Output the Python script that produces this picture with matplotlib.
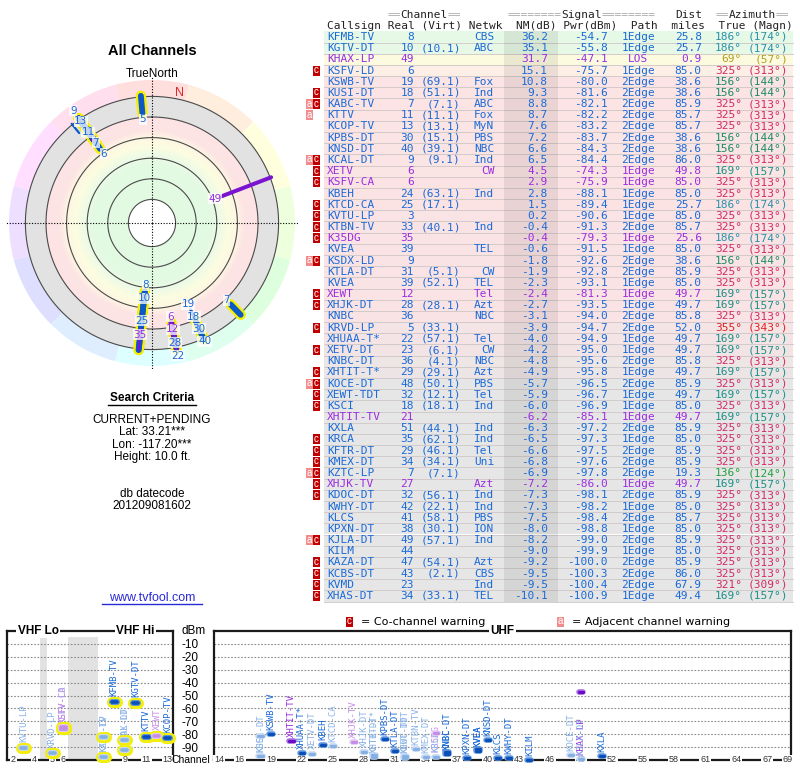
import colorsys
import numpy as np
import matplotlib
matplotlib.use('Agg')
import matplotlib.pyplot as plt
from matplotlib.colors import LinearSegmentedColormap
from matplotlib.patches import Rectangle

plt.rcParams['axes.unicode_minus'] = False

# ---- station table (strongest first) ----
callsigns = ['KFMB-TV', 'KGTV-DT', 'KHAX-LP', 'KSFV-LD', 'KSWB-TV', 'KUSI-DT', 'KABC-TV',
             'KTTV', 'KCOP-TV', 'KPBS-DT', 'KNSD-DT', 'KCAL-DT', 'XETV', 'KSFV-CA', 'KBEH',
             'KTCD-CA', 'KVTU-LP', 'KTBN-TV', 'K35DG', 'KVEA', 'KSDX-LD', 'KTLA-DT', 'KVEA',
             'XEWT', 'XHJK-DT', 'KNBC', 'KRVD-LP', 'XHUAA-T*', 'XETV-DT', 'KNBC-DT',
             'XHTIT-T*', 'KOCE-DT', 'XEWT-TDT', 'KSCI', 'XHTIT-TV', 'KXLA', 'KRCA',
             'KFTR-DT', 'KMEX-DT', 'KZTC-LP', 'XHJK-TV', 'KDOC-DT', 'KWHY-DT', 'KLCS',
             'KPXN-DT', 'KJLA-DT', 'KILM', 'KAZA-DT', 'KCBS-DT', 'KVMD', 'XHAS-DT']
real_ch = [8, 10, 49, 6, 19, 18, 7, 11, 13, 30, 40, 9, 6, 6, 24, 25, 3, 33, 35, 39, 9, 31, 39,
           12, 28, 36, 5, 22, 23, 36, 29, 48, 32, 18, 21, 51, 35, 29, 34, 7, 27, 32, 42, 41,
           38, 49, 44, 47, 43, 23, 34]
virt_ch = ['', '10.1', '', '', '69.1', '51.1', '7.1', '11.1', '13.1', '15.1', '39.1', '9.1',
           '', '', '63.1', '17.1', '', '40.1', '', '', '', '5.1', '52.1', '', '28.1', '',
           '33.1', '57.1', '6.1', '4.1', '29.1', '50.1', '12.1', '18.1', '', '44.1', '62.1',
           '46.1', '34.1', '7.1', '', '56.1', '22.1', '58.1', '30.1', '57.1', '', '54.1',
           '2.1', '', '33.1']
network = ['CBS', 'ABC', '', '', 'Fox', 'Ind', 'ABC', 'Fox', 'MyN', 'PBS', 'NBC', 'Ind', 'CW',
           '', 'Ind', '', '', 'Ind', '', 'TEL', '', 'CW', 'TEL', 'Tel', 'Azt', 'NBC', '',
           'Tel', 'CW', 'NBC', 'Azt', 'PBS', 'Tel', 'Ind', '', 'Ind', 'Ind', 'Tel', 'Uni', '',
           'Azt', 'Ind', 'Ind', 'PBS', 'ION', 'Ind', '', 'Azt', 'CBS', 'Ind', 'TEL']
nm_db = [36.2, 35.1, 31.7, 15.1, 10.8, 9.3, 8.8, 8.7, 7.6, 7.2, 6.6, 6.5, 4.5, 2.9, 2.8, 1.5,
         0.2, -0.4, -0.4, -0.6, -1.8, -1.9, -2.3, -2.4, -2.7, -3.1, -3.9, -4.0, -4.2, -4.8,
         -4.9, -5.7, -5.9, -6.0, -6.2, -6.3, -6.5, -6.6, -6.8, -6.9, -7.2, -7.3, -7.3, -7.5,
         -8.0, -8.2, -9.0, -9.2, -9.5, -9.5, -10.1]
pwr_dbm = [-54.7, -55.8, -47.1, -75.7, -80.0, -81.6, -82.1, -82.2, -83.2, -83.7, -84.3, -84.4,
           -74.3, -75.9, -88.1, -89.4, -90.6, -91.3, -79.3, -91.5, -92.6, -92.8, -93.1, -81.3,
           -93.5, -94.0, -94.7, -94.9, -95.0, -95.6, -95.8, -96.5, -96.7, -96.9, -85.1, -97.2,
           -97.3, -97.5, -97.6, -97.8, -86.0, -98.1, -98.2, -98.4, -98.8, -99.0, -99.9,
           -100.0, -100.3, -100.4, -100.9]
path = ['1Edge', '1Edge', 'LOS', '1Edge',
        '2Edge', '2Edge', '2Edge', '2Edge', '2Edge', '2Edge', '2Edge', '2Edge',
        '1Edge', '1Edge', '1Edge', '1Edge', '1Edge', '2Edge', '1Edge', '1Edge',
        '2Edge', '2Edge', '1Edge', '1Edge', '1Edge', '2Edge', '2Edge', '1Edge',
        '1Edge', '2Edge', '1Edge', '2Edge', '1Edge', '1Edge', '1Edge', '2Edge',
        '1Edge', '2Edge', '2Edge', '2Edge', '1Edge', '2Edge', '1Edge', '2Edge',
        '1Edge', '2Edge', '1Edge', '2Edge', '2Edge', '2Edge', '1Edge']
dist_mi = [25.8, 25.7, 0.9, 85.0, 38.6, 38.6, 85.9, 85.7, 85.7, 38.6, 38.6, 86.0, 49.8, 85.0,
           85.0, 25.7, 85.0, 85.7, 25.6, 85.0, 38.6, 85.9, 85.0, 49.7, 49.7, 85.8, 52.0, 49.7,
           49.7, 85.8, 49.7, 85.9, 49.7, 85.0, 49.7, 85.9, 85.0, 85.9, 85.9, 19.3, 49.7, 85.9,
           85.0, 85.7, 85.0, 85.9, 85.0, 85.9, 86.0, 67.9, 49.4]
az_true = [186, 186, 69, 325, 156, 156, 325, 325, 325, 156, 156, 325, 169, 325, 325, 186, 325,
           325, 186, 325, 156, 325, 325, 169, 169, 325, 355, 169, 169, 325, 169, 325, 169, 325,
           169, 325, 325, 325, 325, 136, 169, 325, 325, 325, 325, 325, 325, 325, 325, 321, 169]
az_magn = [174, 174, 57, 313, 144, 144, 313, 313, 313, 144, 144, 313, 157, 313, 313, 174, 313,
           313, 174, 313, 144, 313, 313, 157, 157, 313, 343, 157, 157, 313, 157, 313, 157, 313,
           157, 313, 313, 313, 313, 124, 157, 313, 313, 313, 313, 313, 313, 313, 313, 309, 157]
analog = ['KHAX-LP', 'XETV', 'KSFV-CA', 'K35DG', 'XEWT', 'XHTIT-TV', 'XHJK-TV']
warnings = ['', '', '', 'c', '', 'c', 'ac', 'a', '', '', '', 'ac', 'c', 'c', '', 'c', 'c', 'c',
            'c', '', 'ac', '', '', 'c', 'c', '', 'c', '', 'c', '', 'c', 'ac', 'c', 'c', '', '',
            'c', 'c', 'c', 'ac', 'c', 'c', '', '', '', 'ac', '', 'c', 'c', 'c', 'c']

search_lines = ['CURRENT+PENDING', 'Lat: 33.21***', 'Lon: -117.20***', 'Height: 10.0 ft.']
datecode = '201209081602'
vhf_ticks = [2, 4, 5, 6, 7, 9, 11, 13]
uhf_ticks = [14] + list(range(16, 68, 3)) + [69]
dbm_ticks = list(range(-90, 0, 10))

MONO = 'DejaVu Sans Mono'
SANS = 'Liberation Sans'
BLUE = '#1a6ad8'
PURPLE = '#9a2ee0'
az_colors = {186: '#2a90aa', 69: '#b4a020', 325: '#d22a6a', 156: '#1a8a68', 169: '#1c9088',
             355: '#e02222', 136: '#22a040', 321: '#d22a62'}

fig = plt.figure(figsize=(8, 7.68), dpi=100)
ov = fig.add_axes([0, 0, 1, 1])
ov.set_xlim(0, 800)
ov.set_ylim(768, 0)
ov.axis('off')

# ---- table ----
CW = 6.69          # monospace char width in px
X0 = 327
TOP, RH = 31.4, 11.18
n = len(callsigns)


def cx(col):
    return X0 + col * CW


row_cmap = LinearSegmentedColormap.from_list('rows', [
    (0.0, '#e6e6e6'), (0.067, '#fae3e4'), (0.43, '#fce4e4'), (0.5, '#fdeee6'),
    (0.898, '#fcfbe0'), (0.95, '#e8f8e6'), (1.0, '#e6f8e6')])

for i in range(n):
    c = row_cmap(np.clip((nm_db[i] + 6) / 42, 0, 1))
    ov.add_patch(Rectangle((324, TOP + i * RH), 469, RH, fc=c, ec='none', zorder=0))
    ov.plot([324, 793], [TOP + (i + 1) * RH] * 2, color='#cdc6c6', lw=0.6, zorder=0.5)
ov.add_patch(Rectangle((504, TOP), 54, n * RH, fc='black', alpha=0.07, ec='none', zorder=1))

tk = dict(family=MONO, fontsize=8, va='center')
GRAY = '#a8a8a8'
DARK = '#222222'
for col, txt, clr in [(9, '==', GRAY), (11, 'Channel', DARK), (18, '==', GRAY),
                      (27, '========', GRAY), (35, 'Signal', DARK), (41, '========', GRAY),
                      (52, 'Dist', DARK), (58, '==', GRAY), (60, 'Azimuth', DARK),
                      (67, '==', GRAY)]:
    ov.text(cx(col), 15, txt, color=clr, ha='left', **tk)
ov.text(cx(0), 26, 'Callsign Real (Virt) Netwk  NM(dB) Pwr(dBm)  Path  miles  True (Magn)',
        color=DARK, ha='left', **tk)


def warn_box(x, y, ch, fc):
    ov.add_patch(Rectangle((x, y - 5), 7, 10, fc=fc, ec='none', zorder=2))
    ov.text(x + 3.5, y - 0.5, ch, color='white', fontsize=7, family=SANS,
            ha='center', va='center', zorder=3)


for i in range(n):
    y = TOP + (i + 0.5) * RH
    clr = PURPLE if callsigns[i] in analog else BLUE
    azc = az_colors[az_true[i]]
    ov.text(cx(0), y, callsigns[i], color=clr, ha='left', **tk)
    ov.text(cx(13), y, str(real_ch[i]), color=clr, ha='right', **tk)
    if virt_ch[i]:
        ov.text(cx(20), y, '(%s)' % virt_ch[i], color=clr, ha='right', **tk)
    ov.text(cx(25), y, network[i], color=clr, ha='right', **tk)
    ov.text(cx(33), y, '%.1f' % nm_db[i], color=clr, ha='right', **tk)
    ov.text(cx(42), y, '%.1f' % pwr_dbm[i], color=clr, ha='right', **tk)
    ov.text(cx(46.5), y, path[i], color=clr, ha='center', **tk)
    ov.text(cx(56), y, '%.1f' % dist_mi[i], color=clr, ha='right', **tk)
    ov.text(cx(62), y, '%d°' % az_true[i], color=azc, ha='right', **tk)
    ov.text(cx(69), y, '(%d°)' % az_magn[i], color=azc, ha='right', **tk)
    if 'c' in warnings[i]:
        warn_box(313, y, 'c', '#c00000')
    if 'a' in warnings[i]:
        warn_box(306, y, 'a', '#f28c8c')

# ---- left panel text ----
st = dict(family=SANS, ha='center', va='center', color='black')
ov.text(152, 51, 'All Channels', fontsize=10.5, weight='bold', **st)
ov.text(152, 74, 'TrueNorth', fontsize=8.5, **st)
ov.text(152, 398, 'Search Criteria', fontsize=8.5, weight='bold', **st)
ov.plot([108, 196], [404.5, 404.5], color='black', lw=1)
for k, line in enumerate(search_lines):
    ov.text(152, 420 + k * 12.4, line, fontsize=8.5, **st)
ov.text(152, 494, 'db datecode', fontsize=8.5, **st)
ov.text(152, 506, datecode, fontsize=8.5, **st)
ov.text(152, 598, 'www.tvfool.com', fontsize=9, family=SANS, ha='center', va='center',
        color='#2a2ad8')
ov.plot([102, 202], [604, 604], color='#2a2ad8', lw=1)

# legend for warning boxes
warn_box(346, 622, 'c', '#c00000')
ov.text(361, 622, '= Co-channel warning', fontsize=8, family='DejaVu Sans', va='center')
warn_box(557, 622, 'a', '#f28c8c')
ov.text(572, 622, '= Adjacent channel warning', fontsize=8, family='DejaVu Sans',
        va='center')

# ---- polar plot ----
axp = fig.add_axes([6 / 800, 1 - 369 / 768, 292 / 800, 292 / 768], projection='polar')
axp.set_theta_zero_location('N')
axp.set_theta_direction(-1)
axp.set_ylim(0, 146)
axp.axis('off')


def radius(nm):
    return 106 - 1.03 * np.asarray(nm, dtype=float)


pol_cmap = LinearSegmentedColormap.from_list('bg', [
    (0.0, '#e2e2e2'), (0.198, '#e2e2e2'), (0.2, '#fde3e3'), (0.33, '#fde4e4'),
    (0.4, '#fdf6e2'), (0.48, '#fcfce0'), (0.58, '#ecfae6'), (0.66, '#e2f9e2'),
    (1.0, '#e2f9e2')])
nm_edges = np.linspace(80, -20, 201)
th_edges = np.linspace(0, 2 * np.pi, 181)
T, R = np.meshgrid(th_edges, radius(nm_edges))
centers = (nm_edges[:-1] + nm_edges[1:]) / 2
C = np.repeat(centers[:, None], 180, axis=1)
axp.pcolormesh(T, R, C, cmap=pol_cmap, vmin=-20, vmax=80, shading='flat', zorder=0)

r_edge = float(radius(-20))
for k in range(12):
    axp.bar(np.radians(30 * k), 143 - r_edge, width=np.radians(30), bottom=r_edge,
            color=colorsys.hsv_to_rgb(k / 12, 0.13, 1.0), lw=0, zorder=0)

th = np.linspace(0, 2 * np.pi, 400)
for ring in [80, 60, 40, 20, 0, -20]:
    axp.plot(th, np.full_like(th, radius(ring)), color='#4a4a4a', lw=0.8, zorder=1)
for t in [0, np.pi / 2, np.pi, 3 * np.pi / 2]:
    axp.plot([t, t], [0, 146], color='black', lw=0.8, ls=(0, (1, 1.5)), zorder=2)

r_out = float(radius(-21))
for i in range(n):
    t = np.radians(az_true[i])
    if real_ch[i] <= 13:
        axp.plot([t, t], [radius(nm_db[i]), r_out], color='#f4ee00', lw=7.5,
                 solid_capstyle='round', zorder=3)
for i in range(n):
    t = np.radians(az_true[i])
    clr = '#7a14d0' if callsigns[i] in analog else '#0c58c8'
    lw = 4.2 if real_ch[i] <= 13 else 1.6 + max(nm_db[i], 0) * 0.04
    axp.plot([t, t], [radius(nm_db[i]), r_out], color=clr, lw=lw,
             solid_capstyle='round', zorder=4)

# channel labels, pushed outward when they would overlap
placed = []
for i in range(n):
    t = np.radians(az_true[i])
    r = float(radius(nm_db[i])) - 6
    ok = False
    while r < 140:
        x, y = r * np.sin(t), r * np.cos(t)
        if all(np.hypot(x - px, y - py) >= 13 for px, py in placed):
            ok = True
            break
        r += 1
    if not ok:
        continue
    placed.append((x, y))
    axp.text(t, r, str(real_ch[i]), fontsize=7.5, family='DejaVu Sans',
             color=PURPLE if callsigns[i] in analog else BLUE, ha='center', va='center',
             bbox=dict(fc='white', ec='none', alpha=0.75, pad=0.4), zorder=5)

declination = az_true[0] - az_magn[0]
axp.text(np.radians(declination), 133, 'N', color='#e02828', fontsize=9, family=SANS,
         ha='center', va='center', zorder=5)

# ---- spectrum charts ----
VHF_SHIFT = 69.2   # squeeze the FM gap


def vhf_x(ch):
    if ch <= 4:
        return 57 + 6 * (ch - 2)
    if ch <= 6:
        return 79 + 6 * (ch - 5)
    return 177 + 6 * (ch - 7) - VHF_SHIFT


axv = fig.add_axes([7 / 800, 1 - 760 / 768, 166 / 800, 129 / 768])
axu = fig.add_axes([214 / 800, 1 - 760 / 768, 577 / 800, 129 / 768])
axv.set_xlim(53.5, 146.8)
axu.set_xlim(13.5, 69.3)
for ax in (axv, axu):
    ax.set_ylim(-100, 0)
    ax.set_xticks([])
    ax.set_yticks(dbm_ticks)
    ax.set_axisbelow(True)
    ax.grid(axis='y', ls=(0, (1.5, 1.5)), color='#8a8a8a', lw=0.8)
    for s in ax.spines.values():
        s.set_color('#1a1a1a')
        s.set_linewidth(1.6)
axv.tick_params(axis='y', length=0, labelleft=False)
axu.set_yticklabels([str(v) for v in dbm_ticks], family=SANS, fontsize=8.5)
axu.tick_params(axis='y', length=0, pad=11)
axu.text(-0.035, 1.0, 'dBm', transform=axu.transAxes, family=SANS, fontsize=8.5,
         ha='center', va='center')
axu.text(-0.006, 0.0, 'Channel', transform=axu.transAxes, family=SANS, fontsize=7.5,
         ha='right', va='center')

axv.axvspan(72, 76, ymax=0.955, color='#e2e2e2', lw=0, zorder=0)
axv.axvspan(88, 174 - VHF_SHIFT, ymax=0.955, color='#e2e2e2', lw=0, zorder=0)

ttl = dict(family=SANS, weight='bold', fontsize=8.5, ha='center', va='center', zorder=6,
           clip_on=False, bbox=dict(fc='white', ec='none', pad=1.0))
axv.text(71, 0, 'VHF Lo', **ttl)
axv.text(195 - VHF_SHIFT, 0, 'VHF Hi', **ttl)
axu.text(41.4, 0, 'UHF', **ttl)

tick_style = dict(family=SANS, fontsize=6.5, color='#333333', ha='center', va='center',
                  zorder=2.6, clip_on=False, bbox=dict(fc='white', ec='none', pad=0.6))
for ch in vhf_ticks:
    axv.text(vhf_x(ch), -100, str(ch), **tick_style)
for ch in uhf_ticks:
    axu.text(ch, -100, str(ch), **tick_style)

shades = {
    (False, False): ('#0a4fb8', '#5b93dc', BLUE),
    (False, True): ('#84b0e4', '#c4d8f2', '#8cb4e8'),
    (True, False): ('#6a0cc4', '#a86ae0', PURPLE),
    (True, True): ('#c48ee6', '#e4c8f4', '#c890ec'),
}
visible = [i for i in range(n) if pwr_dbm[i] > -100]
for ch in sorted(set(real_ch[i] for i in visible)):
    members = [i for i in visible if real_ch[i] == ch]
    low = min(pwr_dbm[i] for i in members)
    vhf = ch <= 13
    ax = axv if vhf else axu
    x = vhf_x(ch) if vhf else ch
    half = 1.4 if vhf else 0.2
    for i in members:
        inner, outer, lab = shades[(callsigns[i] in analog, 'c' in warnings[i])]
        y = pwr_dbm[i]
        seg = dict(solid_capstyle='round', clip_on=False)
        if vhf:
            ax.plot([x - half, x + half], [y, y], color='#f2ee10', lw=8, zorder=4, **seg)
        ax.plot([x - half, x + half], [y, y], color=outer, lw=4.3 if vhf else 4.0,
                zorder=5, **seg)
        ax.plot([x - half, x + half], [y, y], color=inner, lw=2.6 if vhf else 2.3,
                zorder=6, **seg)
        ax.annotate(callsigns[i], (x, low), xytext=(0, 4 if vhf else 3),
                    textcoords='offset points', rotation=90, ha='center', va='bottom',
                    family=MONO, fontsize=6.5, color=lab, zorder=3)

fig.savefig('out.png', dpi=100)
